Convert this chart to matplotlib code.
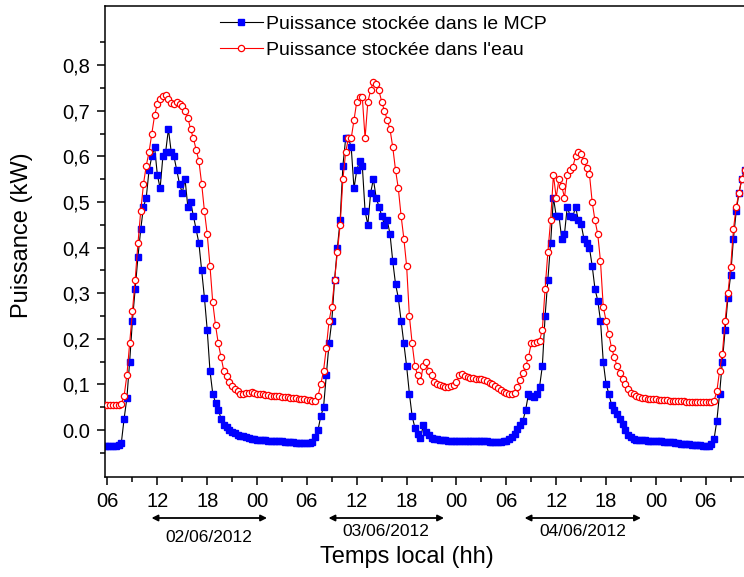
import matplotlib
matplotlib.use('Agg')
import matplotlib.pyplot as plt
import numpy as np
from matplotlib.lines import Line2D
from matplotlib.transforms import blended_transform_factory

plt.rcParams['font.family'] = ['Liberation Sans', 'DejaVu Sans']

# one row per hour (values at hh:00, hh:20, hh:40), hours counted from 01/06/2012 00h
mcp = [
    -0.034, -0.034, -0.034,   # 5
    -0.034, -0.035, -0.034,   # 6
    -0.034, -0.033, -0.028,   # 7
    0.025, 0.07, 0.15,        # 8
    0.24, 0.31, 0.38,         # 9
    0.44, 0.49, 0.51,         # 10
    0.57, 0.60, 0.62,         # 11
    0.56, 0.53, 0.60,         # 12
    0.61, 0.66, 0.61,         # 13
    0.60, 0.57, 0.54,         # 14
    0.52, 0.55, 0.49,         # 15
    0.50, 0.47, 0.44,         # 16
    0.41, 0.35, 0.29,         # 17
    0.22, 0.13, 0.08,         # 18
    0.060, 0.045, 0.025,      # 19
    0.012, 0.006, 0.000,      # 20
    -0.004, -0.007, -0.010,   # 21
    -0.012, -0.014, -0.016,   # 22
    -0.018, -0.019, -0.020,   # 23
    -0.021, -0.021, -0.022,   # 24
    -0.022, -0.023, -0.023,   # 25
    -0.024, -0.024, -0.025,   # 26
    -0.025, -0.026, -0.027,   # 27
    -0.027, -0.027, -0.028,   # 28
    -0.028, -0.029, -0.029,   # 29
    -0.029, -0.028, -0.026,   # 30
    -0.015, 0.000, 0.030,     # 31
    0.050, 0.12, 0.19,        # 32
    0.24, 0.33, 0.40,         # 33
    0.46, 0.58, 0.64,         # 34
    0.64, 0.62, 0.53,         # 35
    0.57, 0.59, 0.58,         # 36
    0.48, 0.45, 0.52,         # 37
    0.55, 0.51, 0.49,         # 38
    0.47, 0.45, 0.46,         # 39
    0.43, 0.37, 0.32,         # 40
    0.29, 0.24, 0.19,         # 41
    0.14, 0.08, 0.03,         # 42
    0.005, -0.008, -0.018,    # 43
    0.010, -0.005, -0.010,    # 44
    -0.018, -0.019, -0.020,   # 45
    -0.021, -0.022, -0.022,   # 46
    -0.023, -0.023, -0.024,   # 47
    -0.024, -0.025, -0.025,   # 48
    -0.025, -0.025, -0.025,   # 49
    -0.025, -0.025, -0.024,   # 50
    -0.024, -0.025, -0.025,   # 51
    -0.026, -0.026, -0.026,   # 52
    -0.026, -0.026, -0.025,   # 53
    -0.025, -0.020, -0.016,   # 54
    -0.008, 0.002, 0.010,     # 55
    0.020, 0.045, 0.079,      # 56
    0.075, 0.072, 0.080,      # 57
    0.095, 0.14, 0.25,        # 58
    0.33, 0.41, 0.51,         # 59
    0.47, 0.47, 0.42,         # 60
    0.43, 0.49, 0.47,         # 61
    0.467, 0.49, 0.46,        # 62
    0.452, 0.42, 0.41,        # 63
    0.40, 0.36, 0.31,         # 64
    0.284, 0.24, 0.15,        # 65
    0.101, 0.080, 0.055,      # 66
    0.045, 0.035, 0.025,      # 67
    0.013, 0.000, -0.010,     # 68
    -0.015, -0.020, -0.021,   # 69
    -0.021, -0.022, -0.022,   # 70
    -0.023, -0.023, -0.024,   # 71
    -0.024, -0.025, -0.025,   # 72
    -0.026, -0.026, -0.027,   # 73
    -0.027, -0.028, -0.029,   # 74
    -0.030, -0.030, -0.031,   # 75
    -0.031, -0.032, -0.032,   # 76
    -0.033, -0.033, -0.034,   # 77
    -0.034, -0.034, -0.031,   # 78
    -0.020, 0.020, 0.080,     # 79
    0.15, 0.22, 0.29,         # 80
    0.34, 0.42, 0.48,         # 81
    0.52, 0.55, 0.57,         # 82
]

eau = [
    0.056, 0.056, 0.056,      # 5
    0.055, 0.055, 0.055,      # 6
    0.055, 0.056, 0.058,      # 7
    0.075, 0.12, 0.19,        # 8
    0.26, 0.33, 0.41,         # 9
    0.48, 0.54, 0.58,         # 10
    0.61, 0.65, 0.69,         # 11
    0.715, 0.727, 0.733,      # 12
    0.734, 0.725, 0.718,      # 13
    0.716, 0.72, 0.714,       # 14
    0.71, 0.70, 0.685,        # 15
    0.66, 0.64, 0.615,        # 16
    0.59, 0.54, 0.48,         # 17
    0.43, 0.36, 0.28,         # 18
    0.23, 0.19, 0.16,         # 19
    0.13, 0.118, 0.105,       # 20
    0.097, 0.09, 0.085,       # 21
    0.080, 0.080, 0.081,      # 22
    0.082, 0.083, 0.082,      # 23
    0.080, 0.079, 0.078,      # 24
    0.077, 0.076, 0.075,      # 25
    0.075, 0.074, 0.074,      # 26
    0.073, 0.073, 0.072,      # 27
    0.071, 0.070, 0.070,      # 28
    0.069, 0.068, 0.067,      # 29
    0.066, 0.065, 0.064,      # 30
    0.064, 0.075, 0.10,       # 31
    0.13, 0.18, 0.24,         # 32
    0.27, 0.33, 0.39,         # 33
    0.45, 0.55, 0.61,         # 34
    0.64, 0.64, 0.68,         # 35
    0.72, 0.73, 0.73,         # 36
    0.64, 0.72, 0.745,        # 37
    0.764, 0.76, 0.745,       # 38
    0.72, 0.70, 0.68,         # 39
    0.66, 0.62, 0.57,         # 40
    0.53, 0.47, 0.42,         # 41
    0.36, 0.25, 0.19,         # 42
    0.14, 0.12, 0.108,        # 43
    0.14, 0.15, 0.13,         # 44
    0.12, 0.105, 0.10,        # 45
    0.098, 0.096, 0.095,      # 46
    0.095, 0.096, 0.098,      # 47
    0.105, 0.12, 0.123,       # 48
    0.118, 0.116, 0.115,      # 49
    0.114, 0.113, 0.112,      # 50
    0.111, 0.110, 0.108,      # 51
    0.104, 0.100, 0.097,      # 52
    0.093, 0.088, 0.084,      # 53
    0.081, 0.080, 0.079,      # 54
    0.082, 0.095, 0.11,       # 55
    0.125, 0.14, 0.16,        # 56
    0.19, 0.19, 0.193,        # 57
    0.196, 0.22, 0.31,        # 58
    0.39, 0.46, 0.56,         # 59
    0.51, 0.55, 0.535,        # 60
    0.51, 0.56, 0.57,         # 61
    0.577, 0.60, 0.61,        # 62
    0.605, 0.59, 0.575,       # 63
    0.562, 0.50, 0.46,        # 64
    0.43, 0.37, 0.27,         # 65
    0.24, 0.21, 0.18,         # 66
    0.16, 0.14, 0.125,        # 67
    0.112, 0.100, 0.09,       # 68
    0.082, 0.078, 0.075,      # 69
    0.072, 0.071, 0.070,      # 70
    0.069, 0.068, 0.068,      # 71
    0.067, 0.066, 0.066,      # 72
    0.065, 0.065, 0.064,      # 73
    0.064, 0.064, 0.063,      # 74
    0.063, 0.063, 0.062,      # 75
    0.062, 0.062, 0.062,      # 76
    0.061, 0.061, 0.061,      # 77
    0.061, 0.061, 0.061,      # 78
    0.064, 0.085, 0.13,       # 79
    0.167, 0.24, 0.30,        # 80
    0.357, 0.44, 0.49,        # 81
    0.52, 0.55, 0.57,         # 82
]

hours = 5 + np.arange(len(mcp)) / 3.0

xticks = [6, 12, 18, 24, 30, 36, 42, 48, 54, 60, 66, 72, 78]
xticklabels = ['06', '12', '18', '00', '06', '12', '18', '00', '06', '12', '18', '00', '06']
yticks = [0.0, 0.1, 0.2, 0.3, 0.4, 0.5, 0.6, 0.7, 0.8]
yticklabels = ['0.0', '0,1', '0,2', '0,3', '0,4', '0,5', '0,6', '0,7', '0,8']
days = ['02/06/2012', '03/06/2012', '04/06/2012']
day_spans = [(11.3, 25.2), (32.6, 46.5), (56.2, 70.2)]

fig = plt.figure(figsize=(7.44, 5.77), dpi=100)
ax = fig.add_axes([105 / 744, 1 - 477 / 577, 1 - 105 / 744 + 0.01, (477 - 6) / 577])

ax.plot(hours, mcp, color='black', lw=0.8, marker='s', ms=4, mfc='#0000ff', mec='#0000ff', zorder=2)
ax.plot(hours, eau, color='red', lw=0.8, marker='o', ms=4.5, mfc='white', mec='red', mew=0.9, zorder=3)

ax.set_xlim(5.7, 83.5)
ax.set_ylim(-0.103, 0.93)
ax.set_xticks(xticks)
ax.set_xticklabels(xticklabels)
ax.set_xticks(np.arange(9, 83, 6), minor=True)
ax.set_yticks(yticks)
ax.set_yticklabels(yticklabels)
ax.set_yticks(np.arange(-0.05, 0.9, 0.1), minor=True)
ax.tick_params(which='major', length=6, width=1.1, labelsize=14.5, pad=5)
ax.tick_params(which='minor', length=3.5, width=1.1)
for s in ['left', 'bottom', 'top']:
    ax.spines[s].set_linewidth(1.1)
ax.spines['right'].set_visible(False)

handles = [
    Line2D([], [], color='black', lw=0.8, marker='s', ms=4, mfc='#0000ff', mec='#0000ff'),
    Line2D([], [], color='red', lw=0.8, marker='o', ms=4.5, mfc='white', mec='red', mew=0.9),
]
fig.legend(handles, ['Puissance stockée dans le MCP', "Puissance stockée dans l'eau"],
           loc='upper left', bbox_to_anchor=(220 / 744, 1 - 15 / 577), frameon=False,
           fontsize=14, numpoints=1, handlelength=2.2, handletextpad=0.15,
           labelspacing=0.45, borderpad=0, borderaxespad=0)

tr = blended_transform_factory(ax.transData, fig.transFigure)
label_y = [1 - 537 / 577, 1 - 531 / 577, 1 - 531 / 577]
for (a, b), d, ly in zip(day_spans, days, label_y):
    ax.annotate('', xy=(b, 1 - 518 / 577), xytext=(a, 1 - 518 / 577),
                xycoords=tr, textcoords=tr, annotation_clip=False,
                arrowprops=dict(arrowstyle='<|-|>', color='black', lw=1.3, mutation_scale=9,
                                shrinkA=0, shrinkB=0))
    ax.text((a + b) / 2, ly, d, transform=tr, ha='center', va='center', fontsize=12.5)

fig.text(407 / 744, 1 - 557 / 577, 'Temps local (hh)', ha='center', va='center', fontsize=17)
fig.text(22 / 744, 1 - 235 / 577, 'Puissance (kW)', ha='center', va='center', fontsize=17, rotation=90)

plt.savefig('out.png', dpi=100)
